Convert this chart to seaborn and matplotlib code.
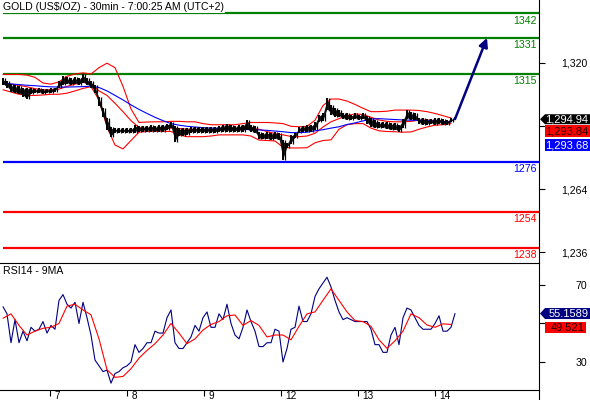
import numpy as np
import pandas as pd
import seaborn as sns
import matplotlib
matplotlib.use('Agg')
import matplotlib.pyplot as plt
from matplotlib.patches import Polygon
from matplotlib.lines import Line2D

sns.set_theme(style="white")
plt.rcParams['font.family'] = ['Liberation Sans', 'DejaVu Sans']

# ---- data ----
title = "GOLD (US$/OZ) - 30min - 7:00:25 AM (UTC+2)"
rsi_title = "RSI14 - 9MA"
day_labels = ["7", "8", "9", "12", "13", "14"]

# price bars (one sample ~ 2.4 bars of 30min)
price_hi = [1313, 1312, 1310.5, 1310, 1309.5, 1309, 1309, 1309, 1308.5, 1309,
            1308.5, 1308.5, 1309, 1309, 1312, 1314, 1313.5, 1313, 1313.5, 1313,
            1315, 1313, 1312, 1310, 1305, 1300, 1295.5, 1291.5, 1291, 1291,
            1291, 1291, 1291, 1292.4, 1292, 1292, 1292, 1292.4, 1292, 1292.4,
            1292.4, 1293, 1293.7, 1292, 1291, 1291, 1291, 1291.5, 1291.5, 1291.5,
            1291.5, 1291.5, 1291.5, 1291.5, 1292, 1292.4, 1293, 1292.4, 1292, 1292.4,
            1292.4, 1294.8, 1292.4, 1292, 1289.3, 1289, 1289.3, 1289, 1289.3, 1289,
            1285.7, 1284.4, 1288, 1289, 1291.5, 1292, 1292.4, 1292.4, 1293.5, 1297,
            1297.7, 1304.3, 1301.2, 1300, 1299, 1297.7, 1297.7, 1297, 1297.7, 1297,
            1297.7, 1296.5, 1295.5, 1294.6, 1293.7, 1293.7, 1293.5, 1293.3, 1293.3, 1292.5,
            1295, 1299, 1298, 1297.7, 1295.5, 1295.5, 1295, 1295, 1295.5, 1295.5,
            1295, 1294.5, 1295.5, 1296]
price_lo = [1310, 1309, 1307, 1306.5, 1306, 1305, 1304, 1306, 1306.5, 1306.5,
            1306, 1306.5, 1306.5, 1307, 1309, 1310, 1310.5, 1310, 1310.5, 1310,
            1311, 1310, 1309, 1306.5, 1301, 1296, 1290, 1287, 1289, 1289,
            1289, 1288.8, 1289, 1289, 1289.3, 1289.5, 1289.5, 1289.5, 1289.3, 1289.5,
            1289.5, 1290, 1291, 1285, 1287.5, 1287.5, 1288, 1288.8, 1289, 1289,
            1288.8, 1289, 1289, 1288.8, 1289.3, 1289.5, 1289.5, 1289.3, 1289.3, 1289.5,
            1289.5, 1290, 1289.3, 1289, 1286, 1286, 1286, 1285.7, 1286, 1285.7,
            1276.9, 1282.2, 1284, 1286.5, 1289, 1289.4, 1289.4, 1289.5, 1290, 1293.7,
            1294, 1299, 1297, 1296, 1296, 1295, 1294.6, 1294.6, 1295, 1294.6,
            1295, 1293, 1291.5, 1291, 1291, 1291, 1290.5, 1290, 1290, 1289.4,
            1291, 1295, 1294.6, 1294.6, 1293, 1292.4, 1292.5, 1292.8, 1292.4, 1293,
            1292.4, 1292.4, 1293.5, 1294.5]

# bollinger bands and moving average (every second price sample)
bb_upper = [1314.8, 1314.8, 1314.8, 1314.5, 1313.5, 1311, 1310.5, 1311.5, 1314, 1315,
            1315.5, 1315, 1317.8, 1319.8, 1317.8, 1309.5, 1299.5, 1293.5, 1293.7, 1293.8,
            1293.8, 1294, 1294, 1293.8, 1293.8, 1293, 1292.5, 1292.5, 1292.5, 1292.5,
            1293, 1293.5, 1293.5, 1293.5, 1293.3, 1293, 1291.8, 1291.6, 1291.8, 1294.5,
            1301, 1303.9, 1303.9, 1303, 1301.5, 1299.8, 1298.3, 1298.3, 1298.5, 1299,
            1299, 1299, 1298.8, 1298.3, 1297.5, 1296.5, 1295.5]
bb_mid = [1311, 1310.5, 1310, 1309.3, 1308.5, 1308, 1308, 1308.3, 1309.5, 1310.5,
          1311.3, 1310.8, 1307.5, 1305.5, 1302, 1298.3, 1294.3, 1291.3, 1290.6, 1290.6,
          1290.8, 1291, 1290.8, 1290.5, 1290.4, 1290.2, 1290.2, 1290.3, 1290.5, 1290.7,
          1290.8, 1291, 1290.5, 1289.5, 1288.6, 1288, 1287.3, 1287.2, 1287.5, 1288.7,
          1291.5, 1293.8, 1295.2, 1296.5, 1297.3, 1297, 1295.8, 1294.6, 1294, 1293.8,
          1293.8, 1294, 1294.5, 1294.6, 1294.3, 1294, 1293.8]
bb_lower = [1308, 1307, 1306, 1305.5, 1305.5, 1305.7, 1306, 1306, 1306.5, 1307.5,
            1308.6, 1309.4, 1303.5, 1291.5, 1283.5, 1281.8, 1285.5, 1289.2, 1289.5, 1289.6,
            1289.6, 1289.5, 1288, 1287.2, 1287.2, 1287.2, 1287.5, 1288, 1288, 1288,
            1288, 1287.5, 1285.7, 1285.5, 1285.3, 1282.5, 1282.2, 1282.2, 1282.3, 1284.5,
            1285.5, 1285.8, 1290.5, 1292.5, 1293, 1293, 1291, 1289.8, 1289.5, 1289.4,
            1289.2, 1289.3, 1290.5, 1291.5, 1292.3, 1292.5, 1293]
ma_blue = [1311, 1310.6, 1310.3, 1310, 1309.8, 1309.5, 1309.3, 1309.2, 1309.2, 1309.3,
           1309.4, 1309.6, 1309, 1307.5, 1305.5, 1303.5, 1301.3, 1299.3, 1297.5, 1295.8,
           1294.3, 1293, 1292.3, 1291.8, 1291.5, 1291.2, 1291, 1290.9, 1290.8, 1290.6,
           1290.5, 1290.3, 1290.2, 1290, 1289.7, 1289.4, 1289, 1289, 1289.2, 1289.8,
           1290.3, 1291, 1291.6, 1292.6, 1293.3, 1294.2, 1295, 1295.2, 1295, 1294.8,
           1294.6, 1294.5, 1294.5, 1294.3, 1294.1, 1293.9, 1293.7]

rsi = [58.7, 55, 40, 52, 40, 46, 41, 48, 46, 47,
       51, 45, 49, 47, 62, 65, 60, 58, 61, 50,
       61, 53, 44, 31, 28, 25, 25.8, 19, 24, 25,
       27, 28, 30, 39, 35, 37, 40, 40, 46, 45,
       45, 53, 57, 40, 37, 37, 40, 43, 49, 46,
       53, 56, 48, 48, 55, 52, 60, 50, 44, 42,
       48, 57, 51, 46, 38, 38, 40, 40, 47, 46,
       30, 37, 47, 48, 59, 51, 51, 55, 64, 68,
       71, 74, 69, 62, 56, 52, 53, 52, 51, 51,
       51, 51, 47, 39, 39, 35, 35, 44, 48, 39,
       53, 58, 57, 53, 49, 47, 47, 47, 50, 54,
       46, 46, 48, 55.16]
rsi_ma = [52.7, 55, 49, 44, 46, 47.5, 48, 50, 59, 60,
          57, 54.5, 42, 26, 22, 22.5, 26.5, 32, 36, 39.5,
          44, 50, 45, 39.5, 42, 46.6, 49.5, 51, 54, 54.4,
          49, 51.5, 49, 43, 44, 44, 41.5, 48.5, 55, 56,
          62, 68, 62, 56, 51.5, 51, 48.5, 41.5, 37.1, 41,
          46, 55, 53, 49.2, 48, 49.8, 49.5]

green_levels = [1342, 1331, 1315]
blue_levels = [1276]
red_levels = [1254, 1238]
target = 1331
price_ticks = [1236, 1264, 1292, 1320]
price_tick_labels = ["1,236", "1,264", "", "1,320"]   # 1,292 sits under the tags
rsi_ticks = [30, 50, 70]
rsi_tick_labels = ["30", "", "70"]
last_close = "1,294.94"
last_mid = "1,293.84"
last_ma = "1,293.68"
last_rsi = "55.1589"
last_rsi_ma = "49.521"

bars = pd.DataFrame({"x": np.arange(len(price_hi)), "hi": price_hi, "lo": price_lo})
bands = pd.DataFrame({"x": np.arange(len(bb_upper)) * 2, "upper": bb_upper,
                      "mid": bb_mid, "lower": bb_lower, "ma": ma_blue})
osc = pd.DataFrame({"x": np.arange(len(rsi)), "rsi": rsi})
osc_ma = pd.DataFrame({"x": np.arange(len(rsi_ma)) * 2, "ma": rsi_ma})

# ---- layout (pixels of a 590x400 image) ----
W, H = 590, 400
SPINE = 539
SEP = 263
BOT = 390
fig = plt.figure(figsize=(W / 100, H / 100), dpi=100)


def fx(px):
    return px / W


def fy(py):
    return 1 - py / H


ax = fig.add_axes([0, fy(SEP), fx(SPINE), SEP / H])
ax2 = fig.add_axes([0, fy(BOT), fx(SPINE), (BOT - SEP) / H])
xlim = (-0.75, 134)
day_ticks = 11.75 + 19.25 * np.arange(len(day_labels))
fs = 7.6

# ---- main panel ----
ax.fill_between(bars["x"], bars["lo"] + 0.6, bars["hi"] - 0.6, color="black", lw=0, alpha=0.9, zorder=3)
ax.vlines(bars["x"], bars["lo"], bars["hi"], color="black", lw=1.4, zorder=3)
ax.vlines(bars["x"][1:] - 0.5, bars["lo"][:-1].values, bars["hi"][:-1].values, color="black", lw=0.9, zorder=3)
for col, c in [("upper", "#ff0000"), ("mid", "#ff0000"), ("lower", "#ff0000"), ("ma", "#0000ff")]:
    sns.lineplot(data=bands, x="x", y=col, ax=ax, color=c, lw=0.8, estimator=None, sort=False, zorder=2)

for levels, c in [(green_levels, "#008000"), (blue_levels, "#0000ff"), (red_levels, "#ff0000")]:
    ax.hlines(levels, 0, xlim[1], colors=c, lw=1.6, zorder=1)
    for lv in levels:
        ax.annotate(str(lv), xy=(1, lv), xycoords=("axes fraction", "data"),
                    xytext=(-1.5, -1.8), textcoords="offset points",
                    ha="right", va="top", fontsize=fs, color=c)

ax.annotate("", xy=(bars["x"].iloc[-1] + 8, target),
            xytext=(bars["x"].iloc[-1], bars["hi"].iloc[-1] - 1),
            arrowprops=dict(arrowstyle="-|>", color="#000080", lw=1.8,
                            mutation_scale=13, shrinkA=0, shrinkB=0), zorder=4)

ax.annotate(title, xy=(0, 1), xycoords="axes fraction", xytext=(2, -1.2),
            textcoords="offset points", ha="left", va="top", fontsize=fs, color="black",
            bbox=dict(fc="white", ec="none", pad=0.6), zorder=6)

ax.set_xlim(*xlim)
ax.set_ylim(1231.2, 1347.8)
ax.set_xticks([])
ax.set_xlabel("")
ax.set_ylabel("")

# ---- RSI panel ----
sns.lineplot(data=osc, x="x", y="rsi", ax=ax2, color="#000080", lw=0.8, estimator=None, sort=False)
sns.lineplot(data=osc_ma, x="x", y="ma", ax=ax2, color="#ff0000", lw=0.8, estimator=None, sort=False)
ax2.annotate(rsi_title, xy=(0, 1), xycoords="axes fraction", xytext=(2, -2.2),
             textcoords="offset points", ha="left", va="top", fontsize=fs, color="black")
ax2.set_xlim(*xlim)
ax2.set_ylim(15.45, 81.4)
ax2.set_xlabel("")
ax2.set_ylabel("")
ax2.set_xticks(day_ticks)
ax2.set_xticklabels([])
for d, lab in zip(day_ticks, day_labels):
    ax2.annotate(lab, xy=(d, 0), xycoords=("data", "axes fraction"), xytext=(3.2, -0.4),
                 textcoords="offset points", ha="left", va="top", fontsize=7.2, color="black")

# axes styling
for a, ticks, labels in [(ax, price_ticks, price_tick_labels), (ax2, rsi_ticks, rsi_tick_labels)]:
    a.yaxis.tick_right()
    a.set_yticks(ticks)
    a.set_yticklabels(labels)
    a.tick_params(axis="y", direction="out", length=4, width=0.8, color="black",
                  pad=(586 - SPINE - 4) * 0.72, labelsize=fs, labelcolor="black")
    for lab in a.get_yticklabels():
        lab.set_horizontalalignment("right")
    for s in a.spines.values():
        s.set_color("black")
        s.set_linewidth(0.8)
    a.spines["left"].set_visible(False)
    a.set_facecolor("white")
ax.spines["top"].set_visible(False)
ax.spines["bottom"].set_visible(False)
ax2.tick_params(axis="x", direction="out", length=4, width=0.8, color="black", bottom=True)

fig.add_artist(Line2D([fx(SPINE), fx(SPINE)], [fy(BOT), 0], color="black", lw=0.8,
                      transform=fig.transFigure))


# ---- value tags on the right ----
def ypx(a, val):
    return H - a.transData.transform((0, val))[1]


def tag(yc, text, fc, tc, arrow, x1=590, h=11):
    y0, y1 = yc - h / 2, yc + h / 2
    if arrow:
        pts = [(SPINE + 1, yc), (545, y0), (x1, y0), (x1, y1), (545, y1)]
    else:
        pts = [(545, y0), (x1, y0), (x1, y1), (545, y1)]
    fig.add_artist(Polygon([(fx(px), fy(py)) for px, py in pts], closed=True,
                           transform=fig.transFigure, fc=fc, ec="none", zorder=5))
    fig.text(fx(x1 - 1.5), fy(yc + 0.5), text, color=tc, ha="right", va="center",
             fontsize=fs + 0.4, zorder=6)


yc = ypx(ax, float(last_close.replace(",", "")))
tag(yc, last_close, "black", "white", True, h=10)
tag(yc + 11.5, last_mid, "#ff0000", "#200000", False, h=12)
tag(yc + 26, last_ma, "#0000ff", "white", False, h=12.5)
yr = ypx(ax2, float(last_rsi))
tag(yr, last_rsi, "#000080", "white", True, h=11)
tag(yr + 14, last_rsi_ma, "#ff0000", "#200000", False, x1=586, h=11)

fig.savefig("out.png", dpi=100, facecolor="white")
